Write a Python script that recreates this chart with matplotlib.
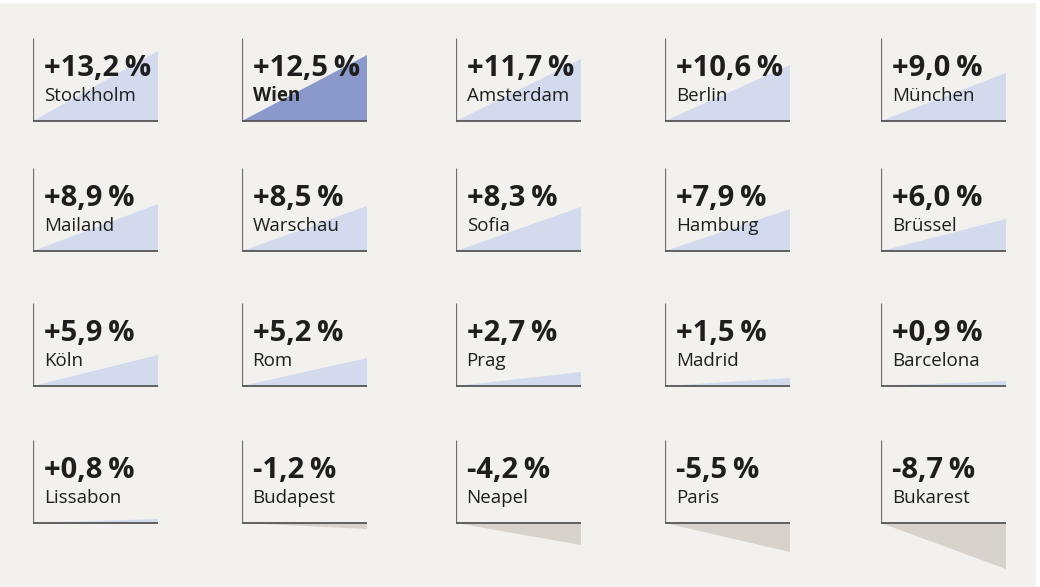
import matplotlib
matplotlib.use("Agg")
import matplotlib.pyplot as plt
from matplotlib.patches import Polygon, Rectangle

cities = ["Stockholm", "Wien", "Amsterdam", "Berlin", "München",
          "Mailand", "Warschau", "Sofia", "Hamburg", "Brüssel",
          "Köln", "Rom", "Prag", "Madrid", "Barcelona",
          "Lissabon", "Budapest", "Neapel", "Paris", "Bukarest"]
values = [13.2, 12.5, 11.7, 10.6, 9.0,
          8.9, 8.5, 8.3, 7.9, 6.0,
          5.9, 5.2, 2.7, 1.5, 0.9,
          0.8, -1.2, -4.2, -5.5, -8.7]
labels = ["+13,2\u2009%", "+12,5\u2009%", "+11,7\u2009%", "+10,6\u2009%", "+9,0\u2009%",
          "+8,9\u2009%", "+8,5\u2009%", "+8,3\u2009%", "+7,9\u2009%", "+6,0\u2009%",
          "+5,9\u2009%", "+5,2\u2009%", "+2,7\u2009%", "+1,5\u2009%", "+0,9\u2009%",
          "+0,8\u2009%", "-1,2\u2009%", "-4,2\u2009%", "-5,5\u2009%", "-8,7\u2009%"]
highlight = "Wien"

W, H = 1040, 587
fig = plt.figure(figsize=(W / 100, H / 100), dpi=100)
fig.patch.set_facecolor("white")
bg = Rectangle((0, 0), 1036 / W, 1 - 3 / H, transform=fig.transFigure,
               facecolor="#f2f1ee", edgecolor="none", zorder=-10)
fig.patches.append(bg)

col_left = [33, 242, 456, 665, 881]
row_base = [121, 251, 386, 523]
panel_w = 125
px_per = 5.3
y_lo, y_hi = -10.0, 15.7

BLUE = "#d4daee"
BLUE_HI = "#8a98cc"
GRAY = "#d8d2cc"
TXT = "#1e1e1e"
FAM = ["Open Sans", "DejaVu Sans"]

for i, (city, v, lab) in enumerate(zip(cities, values, labels)):
    r, c = divmod(i, 5)
    left = col_left[c]
    base = row_base[r]
    bottom_px = base - y_lo * px_per  # pixel y (from top) of axes bottom
    height_px = (y_hi - y_lo) * px_per
    ax = fig.add_axes([left / W, 1 - bottom_px / H, panel_w / W, height_px / H])
    ax.set_zorder(5)
    ax.set_xlim(0, 1)
    ax.set_ylim(y_lo, y_hi)
    ax.axis("off")
    if v >= 0:
        col = BLUE_HI if city == highlight else BLUE
    else:
        col = GRAY
    ax.add_patch(Polygon([(0, 0), (1, 0), (1, v)], closed=True, facecolor=col,
                         edgecolor="none", zorder=1))
    ax.plot([0, 0], [0, y_hi], color="#707070", lw=0.9, solid_capstyle="butt", zorder=3)
    ax.plot([0, 1], [0, 0], color="#555555", lw=1.3, solid_capstyle="butt", zorder=3)
    ax.text(0.085, 8.4, lab, fontsize=21, fontweight="bold", family=FAM,
            color=TXT, va="baseline", ha="left", zorder=4)
    ax.text(0.085, 3.8, city, fontsize=13.5, family=FAM,
            fontweight="bold" if city == highlight else "normal",
            color=TXT, va="baseline", ha="left", zorder=4)

fig.savefig("out.png", dpi=100)
